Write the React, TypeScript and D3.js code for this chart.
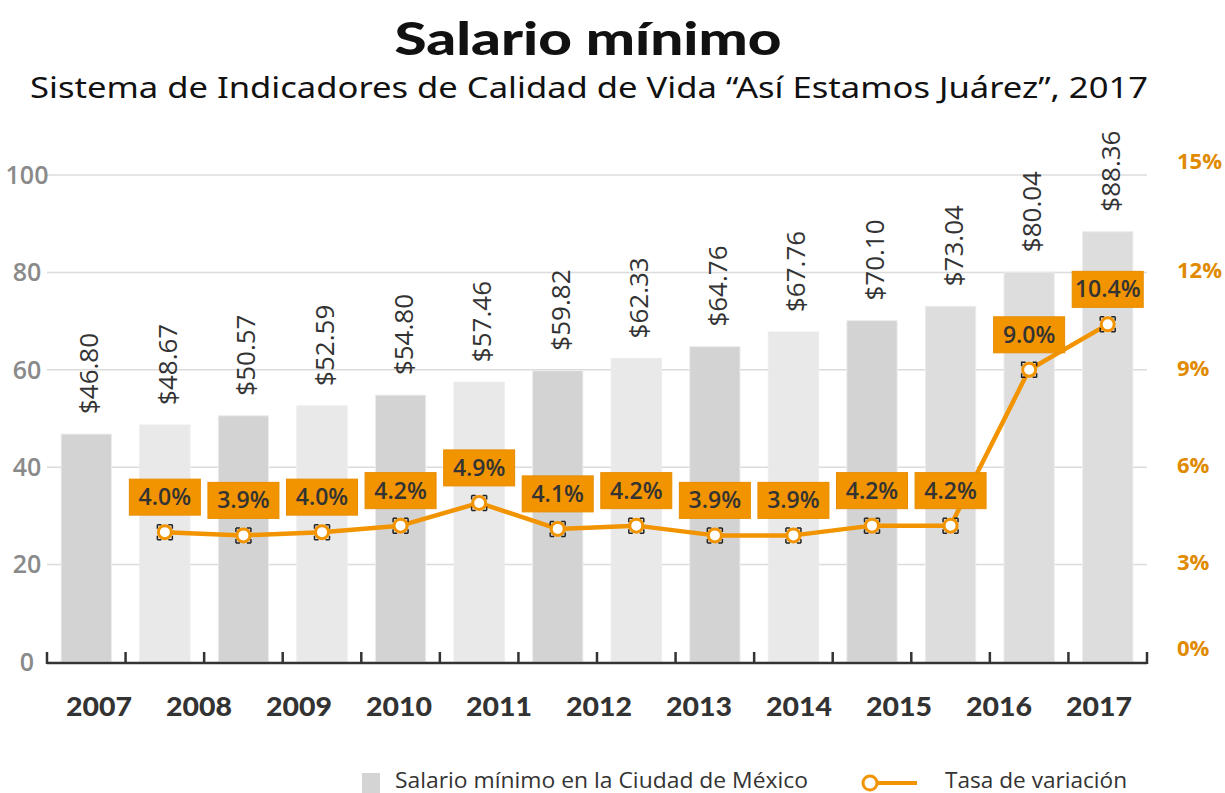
import React from "react";
import * as d3 from "d3";

const barValues = [46.8, 48.67, 50.57, 52.59, 54.8, 57.46, 59.82, 62.33, 64.76, 67.76, 70.1, 73.04, 80.04, 88.36];
const rateValues = [4.0, 3.9, 4.0, 4.2, 4.9, 4.1, 4.2, 3.9, 3.9, 4.2, 4.2, 9.0, 10.4];
const years = ["2007", "2008", "2009", "2010", "2011", "2012", "2013", "2014", "2015", "2016", "2017"];
const leftTicks = [0, 20, 40, 60, 80, 100];
const rightTicks = [0, 3, 6, 9, 12, 15];

const W = 1225;
const H = 793;
const X0 = 47;
const X1 = 1147;
const Y0 = 662;
const Y1 = 175;
const ORANGE = "#f29400";

export default function App() {
  const idx = barValues.map((_, i) => i);
  const x = d3.scaleBand<number>().domain(idx).range([X0, X1]).paddingInner(0.36).paddingOuter(0.18);
  const xYears = d3.scaleBand<string>().domain(years).range([X0, X1]);
  const y = d3.scaleLinear().domain([0, 100]).range([Y0, Y1]);
  const yR = d3.scaleLinear().domain([0, 15]).range([Y0, Y1]);
  const step = (X1 - X0) / barValues.length;

  const pts = rateValues.map((v, i) => ({ x: x(i + 1)! + x.bandwidth() / 2, y: yR(v), v }));
  const line = d3.line<{ x: number; y: number }>().x((d) => d.x).y((d) => d.y);

  const barColor = (i: number) => (i >= 11 ? "#dddddd" : i % 2 === 0 ? "#d3d3d3" : "#e9e9e9");
  const font = "'Open Sans', 'Noto Sans', sans-serif";
  const rightLabelY = (t: number) => {
    const p = yR(t);
    const isEnd = t === rightTicks[0] || t === rightTicks[rightTicks.length - 1];
    return p - (isEnd ? 14 : 2);
  };

  return (
    <svg width={W} height={H} style={{ position: "absolute", left: 0, top: 0, background: "#fff" }} fontFamily={font}>
      <text x={588} y={55} textAnchor="middle" fontFamily="Lato, sans-serif" fontWeight={900} fontSize={46} fill="#111" textLength={387} lengthAdjust="spacingAndGlyphs">
        Salario mínimo
      </text>
      <text x={589} y={98} textAnchor="middle" fontFamily="'Noto Sans', sans-serif" fontWeight={400} fontSize={29} fill="#111" textLength={1118} lengthAdjust="spacingAndGlyphs">
        Sistema de Indicadores de Calidad de Vida “Así Estamos Juárez”, 2017
      </text>

      {/* gridlines */}
      {leftTicks.filter((t) => t > 0).map((t) => (
        <line key={"g" + t} x1={X0} x2={X1} y1={y(t)} y2={y(t)} stroke="#dcdcdc" strokeWidth={1.5} />
      ))}
      {leftTicks.map((t) => (
        <text key={"l" + t} x={27} y={y(t)} dy="0.35em" textAnchor="middle" fontSize={25} fill="#8a8a8a" fontWeight={600}>
          {t}
        </text>
      ))}
      {rightTicks.map((t) => (
        <text key={"r" + t} x={1177} y={rightLabelY(t)} dy="0.35em" fontSize={22} fill="#e08a00" fontWeight={700}>
          {t}%
        </text>
      ))}

      {/* bars */}
      {barValues.map((v, i) => (
        <rect key={"b" + i} x={x(i)!} y={y(v)} width={x.bandwidth()} height={Y0 - y(v)} fill={barColor(i)} stroke="#ececec" strokeWidth={1} />
      ))}
      {barValues.map((v, i) => (
        <text
          key={"bl" + i}
          transform={`translate(${x(i)! + x.bandwidth() / 2 + 2},${y(v) - 20}) rotate(-90)`}
          dominantBaseline="central"
          fontSize={26}
          fill="#333"
          fontWeight={500}
        >
          ${v.toFixed(2)}
        </text>
      ))}

      {/* axis */}
      <line x1={X0} x2={X1} y1={Y0 + 1} y2={Y0 + 1} stroke="#333" strokeWidth={2.5} />
      {d3.range(barValues.length + 1).map((k) => (
        <line key={"t" + k} x1={X0 + k * step} x2={X0 + k * step} y1={Y0 + 2} y2={Y0 - 10} stroke="#333" strokeWidth={2.5} />
      ))}
      {years.map((yr) => (
        <text key={yr} x={xYears(yr)! + xYears.bandwidth() / 2 + 2} y={707} dy="0.35em" textAnchor="middle" fontFamily="Lato, sans-serif" fontWeight={900} fontSize={27} fill="#333" textLength={66} lengthAdjust="spacingAndGlyphs">
          {yr}
        </text>
      ))}

      {/* line */}
      <path d={line(pts) || ""} fill="none" stroke={ORANGE} strokeWidth={4.5} strokeLinejoin="round" />
      {pts.map((p, i) => (
        <g key={"m" + i}>
          <rect x={p.x - 7.5} y={p.y - 7.5} width={15} height={15} fill="none" stroke="#222" strokeWidth={1.5} strokeDasharray="4 7 4 0" />
          <circle cx={p.x} cy={p.y} r={6.5} fill="#fff" stroke={ORANGE} strokeWidth={3} />
        </g>
      ))}
      {pts.map((p, i) => (
        <g key={"pl" + i}>
          <rect x={p.x - 35.5} y={p.y - 17 - 36} width={71} height={36} fill={ORANGE} stroke="#e88c00" strokeWidth={1} />
          <text x={p.x} y={p.y - 17 - 18} dy="0.35em" textAnchor="middle" fontSize={23} fontWeight={600} fill="#333">
            {p.v.toFixed(1)}%
          </text>
        </g>
      ))}

      {/* legend */}
      <rect x={362} y={773} width={18} height={20} fill="#d4d4d4" />
      <text x={395} y={781} dy="0.35em" fontSize={21} fill="#333" fontWeight={500} textLength={413} lengthAdjust="spacingAndGlyphs">
        Salario mínimo en la Ciudad de México
      </text>
      <line x1={870} x2={917} y1={783} y2={783} stroke={ORANGE} strokeWidth={4} />
      <circle cx={870} cy={783} r={7} fill="#fff" stroke={ORANGE} strokeWidth={3} />
      <text x={945} y={781} dy="0.35em" fontSize={21} fill="#333" fontWeight={500} textLength={182} lengthAdjust="spacingAndGlyphs">
        Tasa de variación
      </text>
    </svg>
  );
}
